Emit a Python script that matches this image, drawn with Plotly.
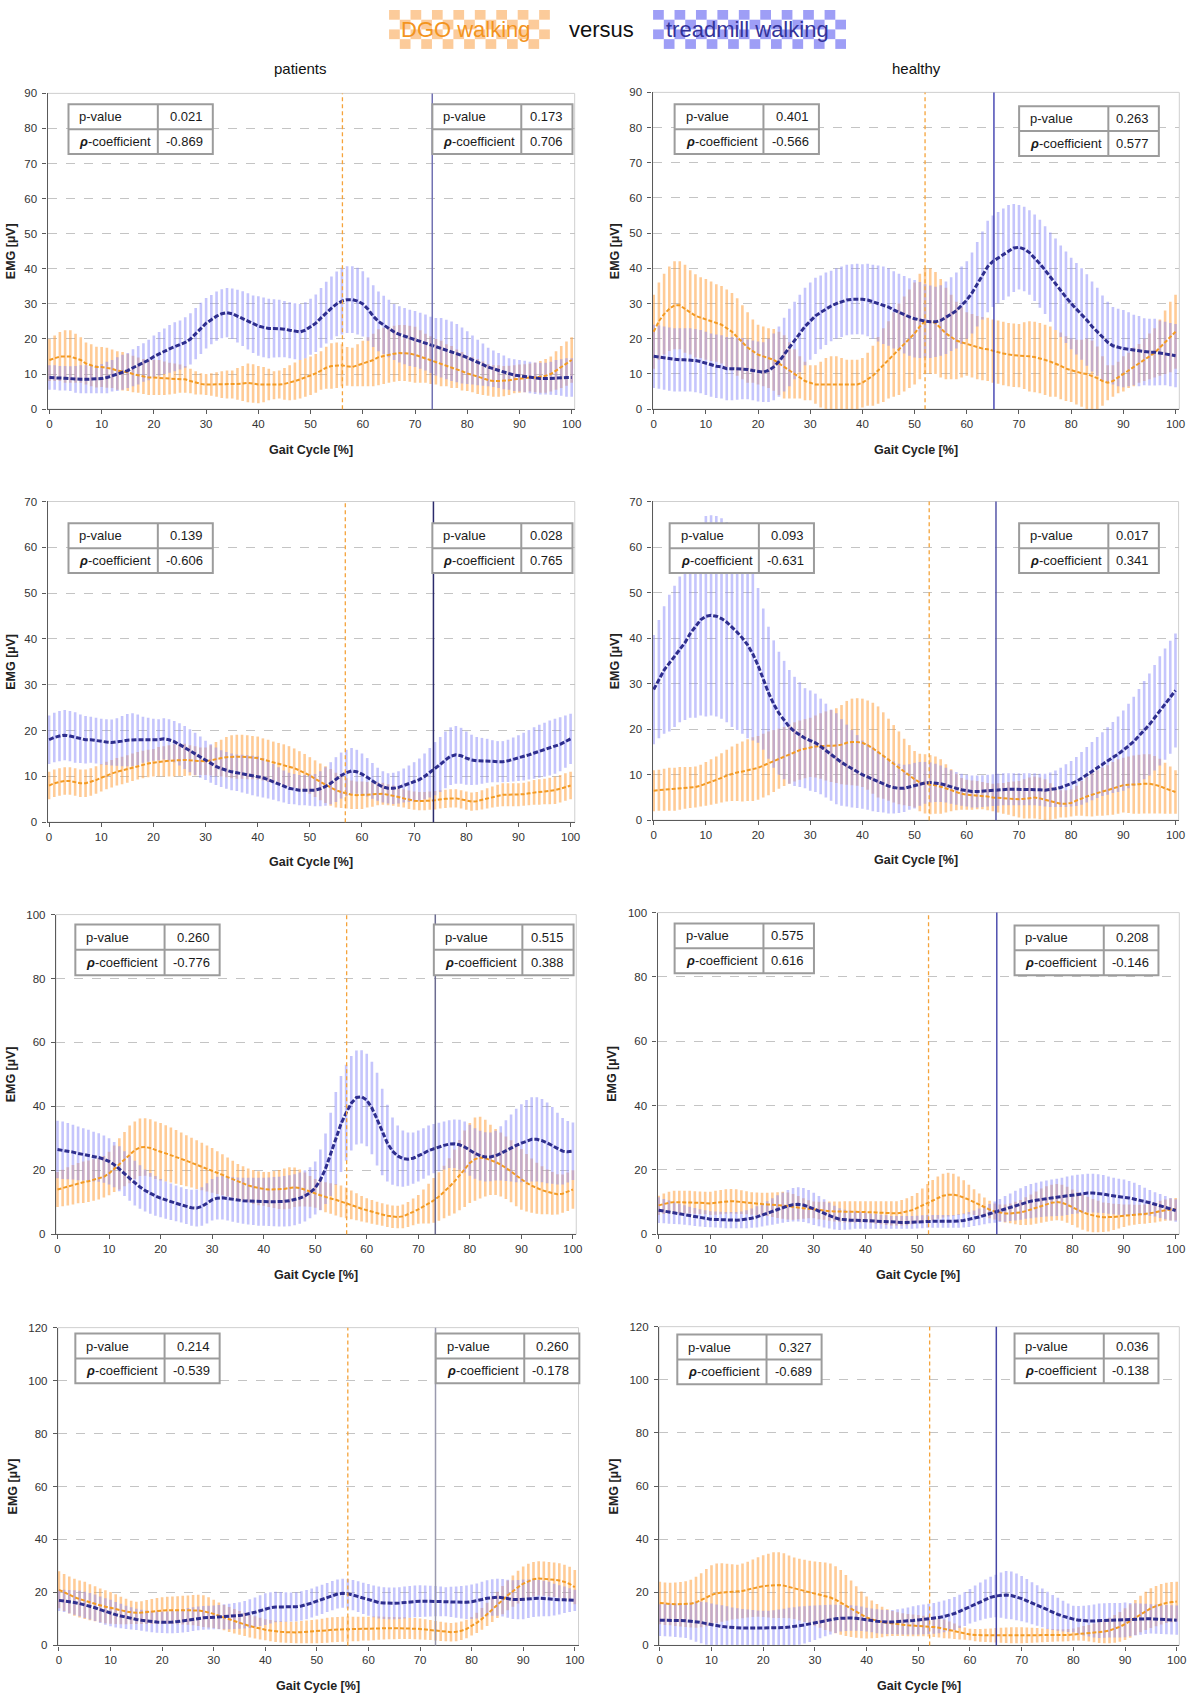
import plotly.graph_objects as go

W, H = 1200, 1706
GAIT = list(range(101))

# ---------------- data (mean and SD, per % gait cycle) ----------------
P1_DGO_MEAN = [14, 14.5, 15, 15, 15, 14.5, 14, 13, 12.5, 12,
               12, 11.8, 11.5, 11, 10.8, 10.5, 10, 9.7, 9.3, 9,
               9, 9, 8.8, 8.7, 8.7, 8.7, 8.5, 8, 7.5, 7.2,
               7, 7, 7, 7, 7, 7, 7.2, 7.3, 7.5, 7.3,
               7, 7, 7, 6.8, 7, 7.2, 7.5, 8, 8.5, 9,
               9.5, 10.2, 11, 11.8, 12.3, 12.5, 12.5, 12.2, 12, 12.5,
               13, 13.5, 14, 14.8, 15.2, 15.5, 15.8, 16, 16, 15.8,
               15.5, 15, 14.5, 14, 13.5, 13, 12.5, 12, 11.5, 10.8,
               10.2, 9.8, 9.3, 8.8, 8.3, 8, 8, 8, 8.2, 8.5,
               8.7, 8.8, 9, 9, 9.2, 9.5, 10, 11, 12, 13,
               14]
P1_DGO_SD = [6, 6.5, 7, 7.5, 7.5, 7, 6.5, 6, 6, 5.8,
             5.7, 5.7, 5.5, 5.5, 5.5, 5.3, 5.2, 5, 5, 5,
             5, 5, 4.8, 4.5, 4.3, 4, 3.8, 3.5, 3.3, 3,
             3, 3.2, 3.5, 3.8, 4, 4, 4.5, 5, 5.5, 5.5,
             5.3, 5, 4.5, 4, 4, 4.5, 5, 5.3, 5.5, 5.5,
             5.5, 5.5, 5.5, 6, 6.5, 6.5, 6, 5.5, 5.5, 6,
             6.5, 7, 7.5, 8, 8, 8, 8, 8, 8, 8,
             8, 7.5, 7, 6.8, 6.5, 6.5, 6, 6, 5.5, 5.5,
             5, 5, 5, 4.8, 4.5, 4.5, 4.5, 4.3, 4.2, 4,
             4, 4, 4, 4.2, 4.5, 4.8, 5, 5.5, 6, 6.3,
             6.5]
P1_TM_MEAN = [9, 9, 8.8, 8.8, 8.7, 8.5, 8.5, 8.5, 8.5, 8.5,
              8.7, 9, 9.5, 10, 10.5, 11, 11.8, 12.5, 13.3, 14,
              15, 15.8, 16.5, 17.2, 17.8, 18.3, 19, 20, 21.5, 23,
              24.5, 25.5, 26.5, 27.2, 27.5, 27.2, 26.5, 25.8, 25, 24.2,
              23.7, 23.3, 23, 23, 23, 22.8, 22.5, 22.2, 22, 22.5,
              23.5, 24.5, 26, 27.5, 28.8, 30, 30.8, 31.2, 31.2, 30.8,
              30, 28.5, 26.5, 25, 24, 23, 22, 21.3, 20.8, 20.3,
              20, 19.5, 19, 18.3, 17.8, 17.5, 17, 16.5, 16, 15.3,
              14.7, 14, 13.3, 12.7, 12, 11.5, 11, 10.5, 10, 9.7,
              9.5, 9.3, 9, 8.8, 8.7, 8.7, 8.8, 9, 9, 9,
              9]
P1_TM_SD = [3.5, 3.5, 3.5, 3.5, 3.5, 3.8, 4, 4, 4, 4,
            4.2, 4.5, 4.5, 4.8, 5, 5, 5.3, 5.5, 5.5, 5.8,
            6, 6.2, 6.5, 6.8, 7, 7, 7.2, 7.3, 7.3, 7.3,
            7.2, 7, 7, 7, 7, 7.2, 7.5, 7.8, 8, 8.2,
            8.5, 8.5, 8.5, 8.3, 8.2, 8, 8, 8, 8, 8,
            8, 8.2, 8.5, 8.8, 9, 9.2, 9.5, 9.5, 9.5, 9.5,
            9.3, 9, 8.8, 8.5, 8.3, 8.2, 8, 8, 8, 8,
            8, 8, 8, 8, 8.2, 8.5, 8.5, 8.5, 8.3, 8,
            7.5, 7, 6.5, 6, 5.5, 5.2, 5, 4.8, 4.5, 4.5,
            4.5, 4.5, 4.5, 4.5, 4.5, 4.5, 4.7, 5, 5.2, 5.5,
            5.5]

P2_DGO_MEAN = [22, 25, 27, 28.5, 29.5, 29.5, 28.5, 27.5, 26.5, 26,
               25.5, 25, 24.5, 24, 23, 22, 20.5, 19, 17.5, 16.5,
               15.5, 15, 14.5, 14, 13, 12, 11, 10, 9, 8,
               7.5, 7, 7, 7, 7, 7, 7, 7, 7, 7,
               7.5, 8.5, 9.5, 11, 12.5, 14, 15.5, 17, 18.5, 20,
               21.5, 23.5, 25, 25, 24.5, 23, 21.5, 20.5, 19.5, 19,
               18.5, 18, 17.5, 17.2, 17, 16.5, 16.2, 15.8, 15.5, 15.3,
               15.2, 15.2, 15, 14.8, 14.5, 14, 13.5, 13, 12.3, 11.5,
               11, 10.5, 10.2, 10, 9.5, 8.8, 8, 7.5, 8, 9,
               10, 11, 12, 13, 14, 15, 16, 17.5, 19, 20.5,
               22]
P2_DGO_SD = [10.5, 11, 11.5, 12, 12.5, 12.5, 12.5, 12, 11.8, 11.5,
             11.5, 11.3, 11, 11, 11, 11, 11, 10.5, 10, 9,
             8.5, 8.5, 8.5, 8.8, 9, 9, 8, 7, 6, 5.5,
             5, 5.5, 6.5, 7.5, 8, 8, 7.5, 7, 7, 7,
             7, 7.5, 8.5, 9.5, 10.5, 11, 12, 13, 13.5, 14,
             14.5, 15, 15, 15, 14.5, 14, 13, 12, 11, 10,
             9, 9, 9, 9, 9, 9, 9, 9, 9, 9,
             9, 9.5, 10, 10, 10, 10, 10, 9.5, 9.5, 9.2,
             9, 9.2, 9.5, 10, 10, 9, 7, 5, 4.5, 4.5,
             5, 5, 5.5, 5.5, 6, 6.5, 7, 8, 9, 10,
             10.5]
P2_TM_MEAN = [15, 14.8, 14.5, 14.2, 14, 14, 14, 14, 13.8, 13.5,
              13, 12.5, 12.2, 12, 11.5, 11.5, 11.5, 11.5, 11.3, 11,
              10.7, 10.5, 11, 12, 13.5, 15.5, 17.5, 19.5, 21.5, 23.5,
              25, 26.5, 27.5, 28.5, 29.3, 30, 30.5, 31, 31.2, 31.3,
              31.2, 31, 30.5, 30, 29.5, 29, 28.2, 27.5, 26.8, 26.2,
              25.7, 25.3, 25, 24.8, 24.8, 25.2, 26, 27, 28, 29.5,
              31, 33, 35.5, 38, 40.5, 42, 43, 44, 45, 45.8,
              46, 45.5, 44.5, 43, 41.3, 39.5, 37.5, 35.5, 33.5, 31.8,
              30, 28.5, 27, 25.3, 23.5, 22, 20.3, 19, 18, 17.5,
              17.2, 17, 16.8, 16.5, 16.3, 16.2, 16.2, 16, 15.8, 15.5,
              15.2]
P2_TM_SD = [9, 9, 9, 9, 9, 9, 9, 9, 9, 9,
            9, 9, 9, 9, 9, 9, 8.8, 8.7, 8.5, 8.5,
            8.5, 8.5, 9, 9.5, 10, 10.5, 11, 11, 11, 11,
            11, 10.8, 10.5, 10.3, 10, 10, 10, 10, 10, 10,
            10, 10.3, 10.5, 10.8, 11, 11, 11, 11, 11, 11,
            11, 10.8, 10.5, 10.3, 10, 10, 10.3, 10.5, 10.8, 11,
            11, 11.5, 12, 12.5, 13, 13, 13, 13, 13, 12.5,
            12, 12, 12, 12.3, 12.5, 12.5, 12.7, 13, 13, 13,
            13, 13, 13, 13, 12.8, 12.5, 12, 11.5, 11, 11,
            11, 10.5, 10, 10, 9.5, 9.5, 9.5, 9.2, 9, 9,
            9]

P3_DGO_MEAN = [8, 8.5, 8.8, 9, 9, 8.8, 8.5, 8.5, 8.8, 9.2,
               9.7, 10.2, 10.6, 11, 11.3, 11.6, 12, 12.3, 12.6, 12.8,
               13, 13.2, 13.3, 13.4, 13.5, 13.6, 13.6, 13.5, 13.4, 13.3,
               13.3, 13.5, 13.8, 14, 14.2, 14.3, 14.3, 14.3, 14.2, 14.1,
               14, 13.7, 13.4, 13.1, 12.8, 12.5, 12.2, 11.8, 11.3, 10.8,
               10.2, 9.5, 8.8, 8.2, 7.6, 7, 6.6, 6.3, 6, 5.9,
               5.9, 6, 6.1, 6.2, 6.2, 6, 5.8, 5.5, 5.2, 4.9,
               4.7, 4.6, 4.6, 4.7, 4.8, 5, 5.1, 5.2, 5.2, 5,
               4.7, 4.5, 4.6, 4.9, 5.2, 5.5, 5.8, 6, 6, 6,
               6, 6.1, 6.3, 6.5, 6.6, 6.7, 6.8, 7, 7.3, 7.7,
               8]
P3_DGO_SD = [3, 3, 3, 3, 3, 3, 3, 3, 3, 3,
             3, 3, 3, 3, 3, 3, 3, 3, 3, 3,
             3, 3.2, 3.3, 3.4, 3.5, 3.5, 3.5, 3.3, 3.2, 3,
             3, 3.3, 3.7, 4, 4.4, 4.7, 4.8, 4.8, 4.8, 4.7,
             4.7, 4.6, 4.6, 4.5, 4.5, 4.5, 4.4, 4.3, 4.2, 4.1,
             4, 4, 4, 4, 4, 3.8, 3.5, 3.3, 3.1, 3,
             3, 2.8, 2.7, 2.5, 2.4, 2.3, 2.2, 2.1, 2, 2,
             2, 2, 2, 2, 2, 2, 2, 2, 2, 2,
             2, 2, 2, 2.1, 2.2, 2.3, 2.4, 2.5, 2.5, 2.5,
             2.5, 2.5, 2.6, 2.7, 2.8, 2.8, 2.9, 3, 3, 3,
             3]
P3_TM_MEAN = [18, 18.5, 18.8, 19, 18.8, 18.5, 18.2, 18, 18, 17.8,
              17.6, 17.5, 17.4, 17.5, 17.7, 17.9, 18, 18, 18, 18,
              18, 18, 18.2, 18, 17.6, 17, 16.3, 15.6, 14.9, 14.2,
              13.5, 12.8, 12.2, 11.7, 11.3, 11, 10.8, 10.6, 10.4, 10.2,
              10, 9.7, 9.3, 8.8, 8.3, 7.8, 7.4, 7.2, 7, 7,
              7, 7, 7.3, 7.8, 8.5, 9.3, 10.2, 10.8, 11.2, 11,
              10.5, 9.8, 9, 8.3, 7.7, 7.4, 7.4, 7.6, 8, 8.4,
              8.8, 9.3, 10, 10.8, 11.7, 12.6, 13.6, 14.4, 14.7, 14.5,
              14, 13.6, 13.4, 13.4, 13.4, 13.3, 13.2, 13.2, 13.4, 13.7,
              14, 14.3, 14.7, 15.1, 15.5, 15.8, 16.2, 16.6, 17, 17.6,
              18.2]
P3_TM_SD = [5.3, 5.4, 5.5, 5.5, 5.5, 5.5, 5.3, 5.2, 5, 5,
            5, 5, 5, 5.2, 5.5, 5.7, 5.8, 5.5, 5, 4.8,
            4.6, 4.5, 4.5, 4.5, 4.5, 4.6, 4.7, 4.7, 4.6, 4.5,
            4.3, 4.2, 4.1, 4, 4, 4, 4, 4.1, 4.2, 4.3,
            4.4, 4.3, 4.1, 3.9, 3.7, 3.5, 3.4, 3.3, 3.3, 3.3,
            3.4, 3.5, 3.8, 4.2, 4.6, 4.9, 5, 5, 5, 4.8,
            4.5, 4.2, 3.9, 3.6, 3.4, 3.3, 3.4, 3.5, 3.7, 4,
            4.3, 4.6, 5, 5.4, 5.8, 6, 6.2, 6.3, 6.3, 6.1,
            5.8, 5.5, 5.2, 5, 4.8, 4.6, 4.5, 4.5, 4.6, 4.8,
            5, 5.2, 5.4, 5.6, 5.8, 5.9, 6, 6, 5.9, 5.7,
            5.5]

P4_DGO_MEAN = [6.5, 6.6, 6.7, 6.8, 6.8, 7, 7.1, 7.2, 7.3, 7.6,
               8, 8.4, 8.8, 9.3, 9.8, 10.2, 10.5, 10.7, 11, 11.2,
               11.5, 12, 12.5, 13, 13.5, 14, 14.5, 15, 15.4, 15.7,
               16, 16.2, 16.3, 16.3, 16.3, 16.4, 16.6, 17, 17.2, 17.2,
               17, 16.5, 15.8, 15, 14.2, 13.3, 12.4, 11.5, 10.6, 9.8,
               9, 8.3, 8, 7.8, 7.7, 7.4, 7, 6.6, 6.2, 5.8,
               5.6, 5.5, 5.5, 5.4, 5.2, 5, 4.9, 4.8, 4.8, 4.7,
               4.6, 4.7, 4.9, 5, 4.8, 4.5, 4.1, 3.8, 3.6, 3.6,
               3.8, 4.3, 4.8, 5.2, 5.6, 6, 6.3, 6.6, 7, 7.4,
               7.7, 7.8, 7.8, 7.9, 8, 8, 7.8, 7.5, 7, 6.6,
               6.2]
P4_DGO_SD = [4.5, 4.5, 4.6, 4.7, 4.7, 4.7, 4.6, 4.5, 4.5, 4.6,
             4.8, 5, 5.2, 5.4, 5.7, 6, 6.3, 6.6, 6.8, 7,
             7, 7, 7, 6.8, 6.6, 6.5, 6.5, 6.5, 6.5, 6.5,
             6.5, 6.8, 7.2, 7.6, 7.9, 8.2, 8.7, 9.2, 9.5, 9.6,
             9.7, 9.8, 10, 10, 9.5, 9, 8.5, 8, 7.3, 6.7,
             6.2, 6.3, 6.5, 6.5, 6.3, 6, 5.3, 4.6, 4, 3.5,
             3.3, 3.2, 3.1, 3, 3, 3, 3.2, 3.4, 3.6, 3.8,
             4, 4.3, 4.5, 4.6, 4.6, 4.5, 4, 3.5, 3, 3,
             3, 3.3, 3.8, 4.3, 4.8, 5, 5.3, 5.5, 5.8, 6,
             6, 6.2, 6.4, 6.5, 6.5, 6.5, 6.3, 6, 5.6, 5.2,
             4.8]
P4_TM_MEAN = [28.7, 31, 33, 34.5, 36, 37.5, 39, 41, 42.5, 44,
              44.8, 45, 44.8, 44.3, 43.5, 42.5, 41.3, 40, 38.5, 36.5,
              34, 31, 28, 25.5, 23.5, 22, 20.5, 19.5, 18.8, 18,
              17.5, 17, 16.2, 15.3, 14.3, 13.5, 12.7, 12, 11.3, 10.7,
              10, 9.5, 9, 8.5, 8, 7.5, 7.2, 7, 7, 7.3,
              7.6, 8, 8.2, 8.3, 8.2, 8, 7.7, 7.3, 7, 6.7,
              6.5, 6.3, 6.3, 6.4, 6.5, 6.6, 6.7, 6.8, 6.8, 6.8,
              6.8, 6.8, 6.8, 6.8, 6.7, 6.6, 6.7, 6.9, 7.2, 7.6,
              8, 8.5, 9.2, 10, 10.8, 11.6, 12.3, 13, 13.8, 14.5,
              15.3, 16.3, 17.3, 18.5, 19.8, 21, 22.5, 24, 25.5, 27,
              28.5]
P4_TM_SD = [12, 13, 14, 15, 15.5, 16, 17, 18.5, 20, 21,
            22, 22, 22, 22, 22, 22, 21.5, 21, 20.5, 19,
            17, 15.5, 14.5, 14, 13.5, 13, 12.5, 12, 11.5, 11,
            11, 10.8, 10.5, 10.3, 10, 10, 9.5, 9, 8.5, 8,
            7.5, 7.2, 7, 6.7, 6.3, 6, 5.7, 5.4, 5.2, 5,
            5, 4.8, 4.6, 4.4, 4.2, 4, 3.8, 3.7, 3.6, 3.5,
            3.5, 3.5, 3.5, 3.5, 3.5, 3.5, 3.5, 3.5, 3.5, 3.5,
            3.5, 3.5, 3.5, 3.5, 3.5, 3.6, 3.8, 4, 4.3, 4.7,
            5, 5.4, 5.8, 6.1, 6.4, 6.7, 7, 7.4, 7.8, 8.3,
            8.8, 9.3, 9.8, 10.3, 10.8, 11.2, 11.6, 12, 12.2, 12.4,
            12.5]

P5_DGO_MEAN = [14, 14.5, 15, 15.5, 16, 16.3, 16.6, 17, 17.4, 18,
               19, 20.5, 22, 23.5, 25, 26.3, 27.2, 27.3, 27, 26.3,
               25.8, 25.3, 24.8, 24.2, 23.6, 23, 22.4, 21.8, 21.2, 20.6,
               20, 19.3, 18.6, 17.9, 17.2, 16.5, 15.9, 15.3, 14.8, 14.4,
               14.2, 14, 14, 14, 14.2, 14.5, 14.7, 14.5, 14, 13.4,
               12.8, 12.2, 11.6, 11.2, 10.8, 10.3, 9.8, 9.2, 8.6, 8,
               7.5, 7, 6.6, 6.2, 5.8, 5.5, 5.4, 5.6, 6.2, 7,
               7.8, 8.7, 9.6, 10.6, 11.8, 13.2, 14.8, 16.5, 18.5, 20.5,
               22.3, 23.5, 24, 23.8, 23.3, 22.6, 21.8, 20.8, 19.7, 18.4,
               17.2, 16.1, 15.2, 14.4, 13.8, 13.3, 12.8, 12.5, 12.7, 13.3,
               14]
P5_DGO_SD = [5.5, 5.7, 6, 6.2, 6.3, 6.5, 6.5, 6.5, 6.5, 6.5,
             6.8, 7.3, 8, 8.5, 9, 9, 9, 9, 9, 9,
             9, 8.8, 8.6, 8.4, 8.2, 8, 7.8, 7.6, 7.4, 7.2,
             7, 6.7, 6.4, 6.1, 5.8, 5.5, 5.4, 5.3, 5.3, 5.3,
             5.3, 5.5, 5.8, 6.1, 6.4, 6.5, 6.2, 5.8, 5.3, 4.8,
             4.5, 4.6, 4.7, 4.8, 4.9, 5, 4.8, 4.5, 4.2, 4,
             3.8, 3.7, 3.6, 3.5, 3.5, 3.5, 3.5, 3.7, 3.9, 4.2,
             4.5, 5.3, 6.2, 7, 7.6, 8.2, 9, 10, 11, 12,
             12.5, 13, 12.8, 12, 11, 10.3, 10, 9.8, 9.7, 9.6,
             9.5, 9, 8.5, 8, 7.5, 7, 6.7, 6.3, 6, 6,
             6]
P5_TM_MEAN = [26.5, 26.3, 26, 25.7, 25.3, 25, 24.7, 24.3, 24, 23.5,
              22.8, 21.8, 20.5, 19, 17.5, 16, 14.8, 13.7, 12.8, 12,
              11.3, 10.7, 10.2, 9.7, 9.2, 8.7, 8.3, 8.2, 8.7, 9.7,
              10.8, 11.3, 11.4, 11.2, 10.9, 10.7, 10.5, 10.4, 10.3, 10.2,
              10.2, 10.2, 10.2, 10.2, 10.3, 10.5, 10.8, 11.3, 12, 13,
              14.5, 17, 20.5, 25, 30, 34.5, 38, 41, 42.8, 43,
              42, 39.5, 36, 32, 28.5, 26, 24.5, 23.7, 23.5, 23.8,
              24.5, 25.3, 26.2, 26.8, 27.3, 27.8, 28.2, 28.3, 28, 27.3,
              26.3, 25.3, 24.6, 24.2, 24.2, 24.6, 25.3, 26.2, 27, 27.8,
              28.5, 29.2, 29.7, 29.7, 29.3, 28.6, 27.8, 26.8, 26, 25.8,
              26]
P5_TM_SD = [9, 9, 8.8, 8.6, 8.4, 8.2, 8, 7.8, 7.6, 7.4,
            7.2, 7.1, 7, 7, 7, 7, 6.8, 6.6, 6.4, 6.2,
            6, 5.8, 5.7, 5.6, 5.5, 5.5, 5.6, 5.8, 6, 6.3,
            6.5, 6.7, 6.8, 6.9, 7, 7.1, 7.2, 7.3, 7.4, 7.5,
            7.5, 7.6, 7.7, 7.8, 7.9, 8, 8, 8, 8, 8,
            8.3, 9.5, 11, 13, 14.5, 15, 15, 14.8, 14.7, 14.6,
            14.5, 14.5, 14.5, 13.5, 12, 10.5, 9.5, 8.8, 8.3, 8,
            8, 7.9, 7.8, 7.7, 7.6, 7.5, 7.5, 7.6, 7.8, 8,
            8, 7.9, 7.8, 7.7, 7.6, 7.8, 8.5, 9.5, 10.5, 11.5,
            12.2, 12.8, 13.2, 13.2, 13, 12.6, 12, 11.2, 10.4, 9.6,
            9]

P6_DGO_MEAN = [9, 9.5, 9.8, 10, 10, 10, 10, 9.9, 9.8, 9.7,
               9.6, 9.8, 10, 10.2, 10.3, 10.2, 10, 9.8, 9.6, 9.5,
               9.4, 9.3, 9.2, 9.1, 9, 8.8, 8.5, 8.3, 8, 7.8,
               7.6, 7.4, 7.3, 7.2, 7.1, 7, 7, 7, 7, 7,
               7, 6.9, 6.8, 6.7, 6.6, 6.5, 6.5, 6.7, 7, 7.5,
               8.2, 9, 9.8, 10.6, 11.4, 12, 12.3, 12.3, 12, 11.5,
               10.8, 10, 9.2, 8.4, 7.7, 7.1, 6.7, 6.5, 6.5, 6.6,
               6.8, 7.2, 7.7, 8.3, 8.9, 9.4, 9.8, 10, 9.8, 9.2,
               8.4, 7.6, 6.9, 6.3, 5.8, 5.5, 5.3, 5.3, 5.4, 5.6,
               5.8, 6, 6.1, 6.2, 6.3, 6.5, 6.8, 7.2, 7.5, 7.7,
               7.8]
P6_DGO_SD = [3, 3.2, 3.4, 3.5, 3.5, 3.5, 3.5, 3.5, 3.5, 3.5,
             3.6, 3.7, 3.8, 3.8, 3.8, 3.8, 3.7, 3.6, 3.5, 3.5,
             3.5, 3.6, 3.8, 4, 4.2, 4.2, 4, 3.6, 3.2, 2.8,
             2.6, 2.7, 2.8, 3, 3.1, 3.2, 3.3, 3.3, 3.3, 3.3,
             3.3, 3.4, 3.5, 3.6, 3.7, 3.8, 3.8, 4, 4.2, 4.4,
             4.6, 5.2, 5.8, 6.3, 6.6, 6.8, 6.8, 6.5, 6, 5.3,
             4.6, 4, 3.5, 3, 2.7, 2.5, 2.6, 2.8, 3.1, 3.5,
             3.9, 4.3, 4.7, 5, 5.3, 5.5, 5.6, 5.6, 5.6, 5.6,
             5.5, 5.5, 5.5, 5.4, 5.2, 4.9, 4.6, 4.4, 4.1, 3.8,
             3.5, 3.3, 3.1, 3, 3, 3, 3.1, 3.2, 3.3, 3.4,
             3.5]
P6_TM_MEAN = [7.5, 7.2, 6.9, 6.6, 6.3, 6, 5.7, 5.4, 5.1, 4.9,
              4.7, 4.6, 4.5, 4.4, 4.4, 4.4, 4.5, 4.7, 5, 5.4,
              5.9, 6.5, 7.1, 7.7, 8.3, 8.8, 9.2, 9.3, 9.1, 8.6,
              7.9, 7.2, 6.5, 5.8, 5.2, 4.7, 4.5, 4.4, 4.4, 4.3,
              4.2, 4.1, 4, 3.9, 3.8, 3.7, 3.7, 3.7, 3.7, 3.7,
              3.8, 3.9, 4, 4, 4, 4, 4, 4, 4.1, 4.3,
              4.6, 5, 5.4, 5.9, 6.4, 6.9, 7.4, 7.9, 8.4, 8.9,
              9.4, 9.9, 10.3, 10.6, 10.9, 11.1, 11.3, 11.5, 11.7, 12,
              12.3, 12.5, 12.7, 12.8, 12.8, 12.7, 12.5, 12.2, 11.9, 11.7,
              11.5, 11.3, 11, 10.6, 10.2, 9.8, 9.3, 8.8, 8.3, 7.8,
              7.4]
P6_TM_SD = [4, 3.8, 3.6, 3.4, 3.2, 3, 2.9, 2.8, 2.7, 2.6,
            2.5, 2.5, 2.5, 2.5, 2.5, 2.5, 2.6, 2.8, 3, 3.3,
            3.5, 3.8, 4.1, 4.4, 4.7, 5, 5.2, 5.3, 5.3, 5.2,
            5, 4.7, 4.4, 4, 3.7, 3.4, 3.1, 2.9, 2.7, 2.6,
            2.5, 2.4, 2.3, 2.2, 2.1, 2, 2, 2, 2, 2,
            2, 2, 2, 2, 2, 2, 2, 2, 2.1, 2.2,
            2.3, 2.4, 2.6, 2.8, 3, 3.3, 3.6, 4, 4.3, 4.6,
            4.9, 5.1, 5.3, 5.4, 5.5, 5.6, 5.7, 5.8, 5.9, 6,
            6, 6, 6, 6, 6, 6, 5.9, 5.8, 5.7, 5.6,
            5.5, 5.3, 5, 4.7, 4.3, 4, 3.8, 3.7, 3.6, 3.5,
            3.5]

P7_DGO_MEAN = [21, 20, 19, 18.2, 17.5, 17, 16.3, 15.7, 15.1, 14.6,
               14.2, 13.7, 13.2, 12.8, 12.5, 12.3, 12.4, 12.6, 12.8, 13,
               13.2, 13.3, 13.3, 13.3, 13.3, 13.3, 13.3, 13.2, 12.9, 12.5,
               11.9, 11.2, 10.5, 9.8, 9.1, 8.5, 7.9, 7.3, 6.8, 6.3,
               5.9, 5.6, 5.3, 5.1, 5, 4.9, 4.9, 5, 5.1, 5.2,
               5.3, 5.5, 5.7, 5.9, 6, 6.1, 6.2, 6.2, 6.2, 6.3,
               6.3, 6.4, 6.5, 6.5, 6.5, 6.5, 6.5, 6.5, 6.4, 6.3,
               6.2, 6, 5.8, 5.5, 5.3, 5.1, 5, 5.1, 5.5, 6.2,
               7.2, 8.5, 10, 11.7, 13.5, 15.3, 17.1, 18.9, 20.5, 22,
               23.3, 24.3, 25, 25.3, 25.2, 25, 24.8, 24.5, 24, 23.2,
               22]
P7_DGO_SD = [7, 7, 7, 7, 7, 7, 6.8, 6.6, 6.4, 6.2,
             6, 5.6, 5.2, 4.8, 4.4, 4.2, 4.3, 4.5, 4.7, 4.9,
             5, 5.1, 5.2, 5.3, 5.4, 5.5, 5.7, 5.9, 6, 5.7,
             5.3, 5, 4.8, 4.7, 4.6, 4.5, 4.4, 4.3, 4.2, 4.1,
             4, 4, 4, 4, 4, 4, 4.1, 4.2, 4.3, 4.4,
             4.5, 4.6, 4.7, 4.7, 4.7, 4.7, 4.7, 4.6, 4.6, 4.5,
             4.5, 4.5, 4.4, 4.3, 4.2, 4.2, 4.1, 4.1, 4, 4,
             4, 3.9, 3.8, 3.7, 3.6, 3.5, 3.5, 3.5, 3.5, 3.5,
             3.5, 3.8, 4.1, 4.4, 4.7, 5, 5.3, 5.6, 5.9, 6.2,
             6.5, 6.5, 6.5, 6.5, 6.5, 6.5, 6.5, 6.5, 6.5, 6.5,
             6.5]
P7_TM_MEAN = [17, 16.8, 16.5, 16.2, 15.8, 15.3, 14.8, 14.2, 13.5, 12.8,
              12.2, 11.6, 11.1, 10.6, 10.2, 9.8, 9.5, 9.2, 9, 8.8,
              8.7, 8.7, 8.8, 9, 9.3, 9.6, 9.9, 10.2, 10.4, 10.5,
              10.6, 10.7, 10.8, 10.9, 11.1, 11.3, 11.6, 12, 12.5, 13.1,
              13.7, 14.2, 14.5, 14.5, 14.5, 14.5, 14.6, 14.9, 15.4, 16,
              16.7, 17.4, 18.1, 18.8, 19.4, 19.7, 19.5, 19, 18.4, 17.8,
              17.2, 16.6, 16.2, 16, 15.9, 15.9, 16, 16.2, 16.4, 16.6,
              16.7, 16.7, 16.7, 16.7, 16.6, 16.5, 16.4, 16.3, 16.3, 16.3,
              16.5, 16.8, 17.3, 17.8, 18.1, 18.2, 18, 17.6, 17.3, 17.3,
              17.4, 17.6, 17.8, 17.8, 17.7, 17.5, 17.3, 17.2, 17.2, 17.1,
              17]
P7_TM_SD = [4, 4.2, 4.4, 4.6, 4.8, 5, 5, 5, 5, 5,
            5, 4.8, 4.6, 4.4, 4.2, 4, 4, 4, 4, 4,
            4, 4.1, 4.2, 4.3, 4.4, 4.5, 4.5, 4.5, 4.5, 4.5,
            4.5, 4.6, 4.7, 4.8, 4.9, 5, 5.2, 5.4, 5.6, 5.8,
            6, 5.9, 5.8, 5.7, 5.6, 5.5, 5.5, 5.5, 5.5, 5.5,
            5.5, 5.5, 5.5, 5.5, 5.5, 5.5, 5.6, 5.7, 5.8, 5.9,
            6, 6, 6, 6, 6, 6, 6, 6, 6, 6,
            6, 5.9, 5.8, 5.7, 5.6, 5.5, 5.7, 5.9, 6.1, 6.3,
            6.5, 6.6, 6.7, 6.8, 6.9, 7, 7.1, 7.2, 7.3, 7.4,
            7.5, 7.3, 7.1, 6.9, 6.7, 6.5, 6, 5.5, 5, 4.5,
            4]

P8_DGO_MEAN = [16, 15.7, 15.6, 15.5, 15.5, 15.5, 15.7, 16.2, 17, 18,
               19, 19.6, 19.9, 20, 20.1, 20.2, 20.5, 21, 21.5, 22,
               22.3, 22.5, 22.7, 22.7, 22.5, 22, 21.5, 21, 20.5, 20,
               19.5, 19, 18.5, 18, 17.2, 16.2, 15, 13.8, 12.6, 11.5,
               10.5, 9.8, 9.2, 8.8, 8.5, 8.2, 8, 7.8, 7.6, 7.5,
               7.4, 7.3, 7.1, 6.9, 6.6, 6.2, 5.8, 5.3, 4.8, 4.4,
               4.1, 3.9, 3.8, 3.8, 3.8, 3.8, 3.8, 3.8, 3.8, 3.8,
               3.8, 3.8, 3.8, 3.8, 3.8, 3.8, 3.8, 3.8, 3.8, 3.9,
               4.1, 4.3, 4.5, 4.6, 4.7, 4.9, 5.2, 5.6, 6.2, 7,
               8, 9.2, 10.5, 11.8, 13, 14, 14.8, 15.5, 16, 16.3,
               16.5]
P8_DGO_SD = [8, 8, 8, 8.2, 8.4, 8.6, 9, 9.6, 10.2, 10.8,
             11.2, 11.2, 11, 10.7, 10.4, 10.2, 10.3, 10.5, 10.8, 11.2,
             11.6, 12, 12.4, 12.4, 12.2, 11.8, 11.6, 11.6, 11.7, 11.9,
             12.1, 12.4, 12.7, 12.8, 12.6, 12.2, 11.5, 10.6, 9.7, 8.8,
             7.9, 7.1, 6.4, 5.7, 5.1, 4.7, 4.5, 4.3, 4.2, 4.1,
             4, 3.9, 3.8, 3.7, 3.6, 3.5, 3.2, 2.9, 2.6, 2.3,
             2.2, 2.3, 2.4, 2.5, 2.6, 2.7, 2.8, 2.9, 3, 3,
             3, 2.9, 2.8, 2.7, 2.6, 2.5, 2.4, 2.3, 2.3, 2.3,
             2.3, 2.5, 2.8, 3.1, 3.5, 4, 4.4, 4.8, 5.2, 5.6,
             6, 6.3, 6.6, 6.9, 7.2, 7.5, 7.6, 7.6, 7.6, 7.6,
             7.5]
P8_TM_MEAN = [9.5, 9.5, 9.5, 9.5, 9.4, 9.3, 9.1, 8.9, 8.6, 8.2,
              7.8, 7.4, 7.1, 6.9, 6.7, 6.6, 6.5, 6.5, 6.5, 6.5,
              6.5, 6.5, 6.5, 6.6, 6.7, 6.9, 7.1, 7.4, 7.7, 8.1,
              8.5, 8.9, 9.3, 9.7, 10, 10.2, 10.3, 10.3, 10.2, 10,
              9.7, 9.4, 9.1, 8.9, 8.8, 8.8, 8.9, 9, 9.2, 9.4,
              9.6, 9.8, 10, 10.2, 10.5, 10.9, 11.4, 12, 12.8, 13.7,
              14.7, 15.7, 16.6, 17.4, 18.1, 18.6, 18.9, 19, 18.8, 18.3,
              17.6, 16.8, 15.9, 15, 14.1, 13.2, 12.4, 11.7, 11, 10.4,
              9.9, 9.5, 9.3, 9.2, 9.2, 9.3, 9.4, 9.5, 9.5, 9.5,
              9.6, 9.7, 9.8, 9.9, 10, 10, 9.9, 9.8, 9.7, 9.6,
              9.5]
P8_TM_SD = [6, 6.1, 6.2, 6.3, 6.4, 6.5, 7, 7.5, 7.8, 8,
            8, 8, 8, 7.8, 7.6, 7.4, 7.2, 7, 6.8, 6.6,
            6.5, 6.5, 6.7, 6.9, 7.1, 7.3, 7.3, 7.2, 7, 6.8,
            6.5, 6.2, 5.9, 5.6, 5.3, 5, 4.9, 4.8, 4.7, 4.6,
            4.5, 4.5, 4.5, 4.5, 4.5, 4.5, 4.7, 4.9, 5.1, 5.3,
            5.5, 5.6, 5.7, 5.8, 5.9, 6, 6.1, 6.2, 6.3, 6.4,
            6.5, 6.8, 7.1, 7.4, 7.7, 8, 8.5, 9, 9, 8.8,
            8.5, 8.2, 7.9, 7.6, 7.3, 7, 6.6, 6.2, 5.8, 5.4,
            5, 5.3, 5.6, 5.9, 6.2, 6.5, 6.5, 6.5, 6.5, 6.5,
            6.5, 6.3, 6.1, 5.9, 5.7, 5.5, 5.5, 5.5, 5.5, 5.5,
            5.5]

# end of stance phase (% gait cycle): DGO (dashed orange), treadmill (solid blue)
DGO_STANCE_END = [56.1, 52.0, 56.8, 52.8, 56.1, 52.2, 56.0, 52.2]
TM_STANCE_END = [73.3, 65.2, 73.7, 65.6, 73.3, 65.4, 73.0, 65.1]

# correlation tables: (p-value, rho-coefficient) left table and right table
P_LEFT = [0.021, 0.401, 0.139, 0.093, 0.260, 0.575, 0.214, 0.327]
RHO_LEFT = [-0.869, -0.566, -0.606, -0.631, -0.776, 0.616, -0.539, -0.689]
P_RIGHT = [0.173, 0.263, 0.028, 0.017, 0.515, 0.208, 0.260, 0.036]
RHO_RIGHT = [0.706, 0.577, 0.765, 0.341, 0.388, -0.146, -0.178, -0.138]

Y_MAX = [90, 90, 70, 70, 100, 100, 120, 120]
Y_DTICK = [10, 10, 10, 10, 20, 20, 20, 20]
COLUMN_TITLES = ["patients", "healthy"]
LEGEND_LABELS = ["DGO walking", "versus", "treadmill walking"]

SERIES = [
    (P1_DGO_MEAN, P1_DGO_SD, P1_TM_MEAN, P1_TM_SD),
    (P2_DGO_MEAN, P2_DGO_SD, P2_TM_MEAN, P2_TM_SD),
    (P3_DGO_MEAN, P3_DGO_SD, P3_TM_MEAN, P3_TM_SD),
    (P4_DGO_MEAN, P4_DGO_SD, P4_TM_MEAN, P4_TM_SD),
    (P5_DGO_MEAN, P5_DGO_SD, P5_TM_MEAN, P5_TM_SD),
    (P6_DGO_MEAN, P6_DGO_SD, P6_TM_MEAN, P6_TM_SD),
    (P7_DGO_MEAN, P7_DGO_SD, P7_TM_MEAN, P7_TM_SD),
    (P8_DGO_MEAN, P8_DGO_SD, P8_TM_MEAN, P8_TM_SD),
]
for s in SERIES:
    for arr in s:
        assert len(arr) == 101, len(arr)

# ---------------- layout (pixel geometry) ----------------
BOXES = [(45.9, 577.0, 88, 406), (655.5, 1186.2, 87, 406),
         (45.9, 577.1, 499, 822), (655.5, 1185.5, 499, 820),
         (54.3, 578.6, 915, 1237), (660.5, 1186.2, 913, 1237),
         (56.3, 580.9, 1331, 1651), (662.0, 1186.2, 1330, 1651)]
XRANGES = [(-0.36, 100.57), (-0.21, 100.72), (-0.29, 100.8), (-0.21, 100.6),
           (-0.31, 100.65), (-0.21, 100.7), (-0.21, 100.73), (-0.15, 100.5)]
XTITLE_Y = [447, 447, 862, 860, 1278, 1278, 1692, 1692]
YTITLE_X = [9, 617, 9, 617, 10, 615, 11, 617]
TABLES_L = [(67, 212.4, 99, 149, 157), (677.7, 823.1, 99, 149, 767.2),
            (67, 212.4, 521, 571, 157), (672.7, 818.1, 521, 571, 762.6),
            (73.9, 219.3, 925, 976, 163.8), (677.7, 818.1, 924, 974, 767.2),
            (73.9, 219.3, 1337, 1387, 163.8), (680.4, 825.8, 1338, 1388, 770.3)]
TABLES_R = [(433.6, 574.8, 99, 149, 523.2), (1024.8, 1165.6, 101, 151, 1114.7),
            (433.6, 574.8, 521, 571, 523.2), (1024.8, 1165.6, 521, 571, 1114.7),
            (435.1, 575.9, 925, 976, 524.3), (1020.2, 1165.2, 926, 976, 1110.1),
            (437.0, 581.7, 1337, 1387, 526.2), (1020.2, 1165.2, 1337, 1387, 1110.1)]
TM_LINE_COLORS = ["#7272B2", "#4B4BB5", "#2B2B6B", "#5656A8",
                  "#6C6C90", "#4F4FAF", "#9A9AAE", "#4646A6"]

FONT = "Liberation Sans, Arial, sans-serif"
DGO_BAR = "rgba(255,160,64,0.55)"
TM_BAR = "rgba(140,140,250,0.5)"
DGO_LINE = "#F39A22"
TM_LINE = "#2E2E8E"


def px(x):
    return x / W


def py(y):
    return 1 - y / H


fig = go.Figure()
shapes = []
annotations = []
layout_axes = {}

for i in range(8):
    n = i + 1
    sfx = "" if n == 1 else str(n)
    xa, ya = "x" + sfx, "y" + sfx
    l, r, t, b = BOXES[i]
    dgo_m, dgo_sd, tm_m, tm_sd = SERIES[i]

    layout_axes["xaxis" + sfx] = dict(
        domain=[px(l), px(r)], anchor=ya, range=list(XRANGES[i]),
        tick0=0, dtick=10, showline=True, linecolor="#5a5a5a", linewidth=1.3,
        ticks="outside", ticklen=4, tickcolor="#5a5a5a", showgrid=False,
        zeroline=False, tickfont=dict(family=FONT, size=11.5, color="#333"))
    layout_axes["yaxis" + sfx] = dict(
        domain=[py(b), py(t)], anchor=xa, range=[0, Y_MAX[i]],
        tick0=0, dtick=Y_DTICK[i], showline=True, linecolor="#5a5a5a",
        linewidth=1.3, ticks="outside", ticklen=4, tickcolor="#5a5a5a",
        showgrid=True, gridcolor="#C4C4C4", griddash="dash", gridwidth=1,
        zeroline=False, ticklabelstandoff=3,
        tickfont=dict(family=FONT, size=11.5, color="#333"))

    fig.add_trace(go.Scatter(
        x=GAIT, y=dgo_m, xaxis=xa, yaxis=ya, mode="markers",
        marker=dict(size=1, color="rgba(0,0,0,0)"), hoverinfo="skip",
        error_y=dict(type="data", array=dgo_sd, visible=True, thickness=2.6,
                     width=0, color=DGO_BAR)))
    fig.add_trace(go.Scatter(
        x=GAIT, y=tm_m, xaxis=xa, yaxis=ya, mode="markers",
        marker=dict(size=1, color="rgba(0,0,0,0)"), hoverinfo="skip",
        error_y=dict(type="data", array=tm_sd, visible=True, thickness=2.6,
                     width=0, color=TM_BAR)))
    fig.add_trace(go.Scatter(
        x=GAIT, y=dgo_m, xaxis=xa, yaxis=ya, mode="lines",
        line=dict(color=DGO_LINE, width=2, dash="4px,2px")))
    fig.add_trace(go.Scatter(
        x=GAIT, y=tm_m, xaxis=xa, yaxis=ya, mode="lines",
        line=dict(color=TM_LINE, width=3, dash="5px,2px")))

    shapes.append(dict(type="rect", xref=xa + " domain", yref=ya + " domain",
                       x0=0, x1=1, y0=0, y1=1, line=dict(color="#CFCFCF", width=1),
                       layer="below"))
    shapes.append(dict(type="line", xref=xa, yref=ya + " domain",
                       x0=DGO_STANCE_END[i], x1=DGO_STANCE_END[i], y0=0, y1=1,
                       line=dict(color="#F5A33A", width=1.3, dash="4px,3px")))
    shapes.append(dict(type="line", xref=xa, yref=ya + " domain",
                       x0=TM_STANCE_END[i], x1=TM_STANCE_END[i], y0=0, y1=1,
                       line=dict(color=TM_LINE_COLORS[i], width=1.5)))

    for (tl, tr, tt, tb, tdiv), pv, rho in ((TABLES_L[i], P_LEFT[i], RHO_LEFT[i]),
                                            (TABLES_R[i], P_RIGHT[i], RHO_RIGHT[i])):
        tmid = (tt + tb) / 2
        shapes.append(dict(type="rect", xref="paper", yref="paper",
                           x0=px(tl), x1=px(tr), y0=py(tb), y1=py(tt),
                           fillcolor="white", line=dict(color="#9C9C9C", width=2),
                           layer="above"))
        shapes.append(dict(type="line", xref="paper", yref="paper",
                           x0=px(tdiv), x1=px(tdiv), y0=py(tb), y1=py(tt),
                           line=dict(color="#9C9C9C", width=2)))
        shapes.append(dict(type="line", xref="paper", yref="paper",
                           x0=px(tl), x1=px(tr), y0=py(tmid), y1=py(tmid),
                           line=dict(color="#9C9C9C", width=2)))
        for row, (lab, val) in enumerate((("p-value", pv),
                                          ("<b><i>ρ</i></b>-coefficient", rho))):
            cy = (tt + tmid) / 2 if row == 0 else (tmid + tb) / 2
            annotations.append(dict(xref="paper", yref="paper", x=px(tl + 9), y=py(cy),
                                    text=lab, showarrow=False, xanchor="left",
                                    yanchor="middle",
                                    font=dict(family=FONT, size=13, color="#1a1a1a")))
            annotations.append(dict(xref="paper", yref="paper", x=px(tr - 8), y=py(cy),
                                    text=f"{val:.3f}", showarrow=False, xanchor="right",
                                    yanchor="middle",
                                    font=dict(family=FONT, size=13, color="#1a1a1a")))

    annotations.append(dict(xref="paper", yref="paper", x=px((l + r) / 2),
                            y=py(XTITLE_Y[i]), text="<b>Gait Cycle [%]</b>",
                            showarrow=False, xanchor="center", yanchor="middle",
                            font=dict(family=FONT, size=12.5, color="#222")))
    annotations.append(dict(xref="paper", yref="paper", x=px(YTITLE_X[i]),
                            y=py((t + b) / 2), text="<b>EMG [µV]</b>", textangle=-90,
                            showarrow=False, xanchor="center", yanchor="middle",
                            font=dict(family=FONT, size=12.5, color="#222")))

for cx, txt in zip((301, 921), COLUMN_TITLES):
    annotations.append(dict(xref="paper", yref="paper", x=px(cx), y=py(63), text=txt,
                            showarrow=False, xanchor="center", yanchor="middle",
                            font=dict(family=FONT, size=15, color="#111")))


def checker(x0, ncols, color):
    sq_w, sq_h, y0 = 10.8, 9.8, 4
    for rr in range(4):
        for cc in range(ncols):
            if (rr + cc) % 2 == 0:
                shapes.append(dict(type="rect", xref="paper", yref="paper",
                                   x0=px(x0 + cc * sq_w), x1=px(x0 + (cc + 1) * sq_w),
                                   y0=py(y0 + (rr + 1) * sq_h), y1=py(y0 + rr * sq_h),
                                   fillcolor=color, line=dict(width=0), layer="below"))


checker(390, 15, "#FCCB9A")
checker(656, 18, "#9E9EF6")
for cx, txt, col in zip((468, 604, 751), LEGEND_LABELS, ("#F3941E", "#111111", "#333399")):
    annotations.append(dict(xref="paper", yref="paper", x=px(cx), y=py(24), text=txt,
                            showarrow=False, xanchor="center", yanchor="middle",
                            font=dict(family=FONT, size=22, color=col)))

fig.update_layout(
    width=W, height=H, margin=dict(l=0, r=0, t=0, b=0),
    paper_bgcolor="white", plot_bgcolor="white", showlegend=False,
    shapes=shapes, annotations=annotations, **layout_axes)

fig.write_html("out.html", config={"displayModeBar": False},
               post_script="document.body.style.margin='0';"
                           "document.body.style.overflow='hidden';")
